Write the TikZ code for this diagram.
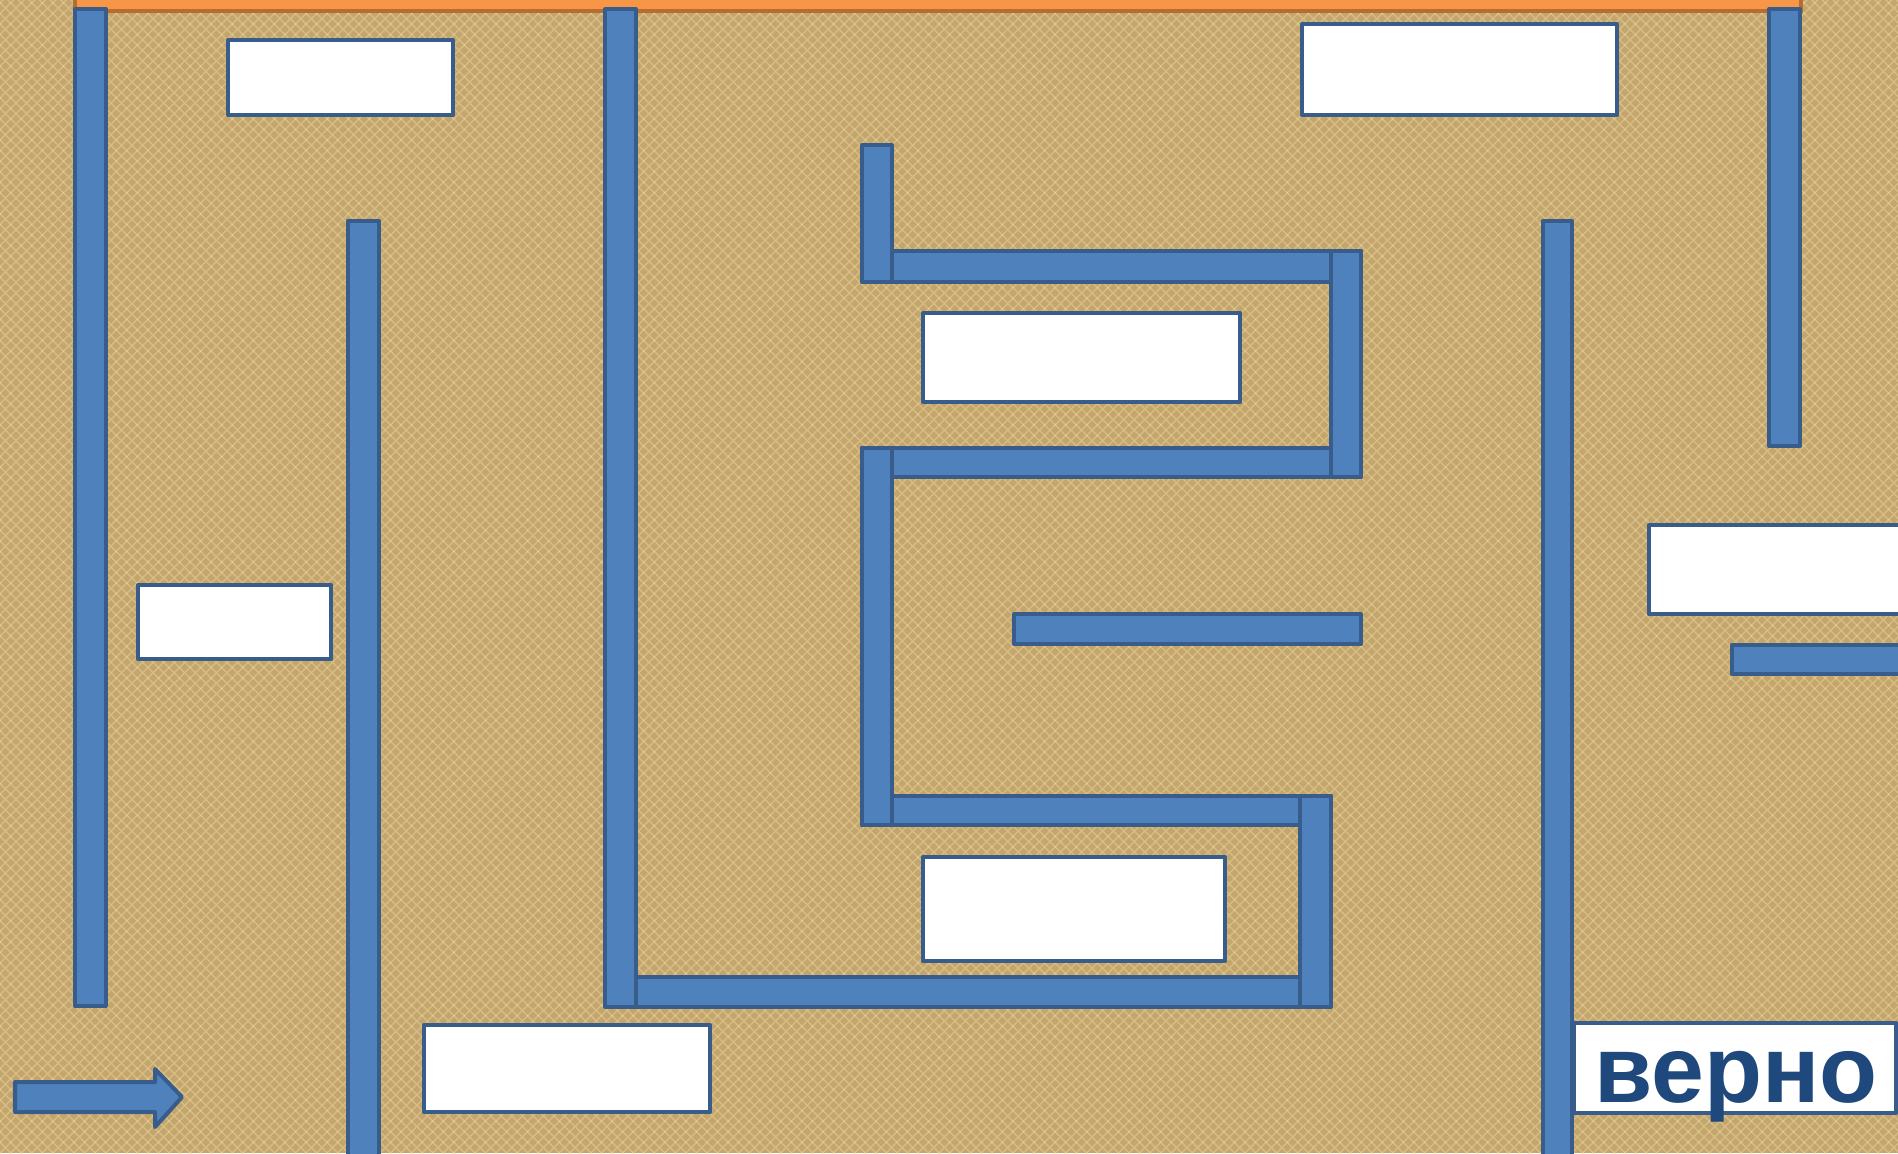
\documentclass[tikz,border=0pt]{standalone}
\usepackage{fontspec}
\setmainfont{Liberation Sans}
\usetikzlibrary{patterns}
\definecolor{burlap}{HTML}{C4A66C}
\definecolor{burlaplight}{HTML}{EAD7A4}
\definecolor{barfill}{HTML}{4F81BD}
\definecolor{barline}{HTML}{385D8A}
\definecolor{orfill}{HTML}{F79646}
\definecolor{orline}{HTML}{B66D31}
\definecolor{txtblue}{HTML}{1F497D}
\tikzset{
  bar/.style={fill=barfill, draw=barline, line width=0.04cm, line join=round},
  orbar/.style={fill=orfill, draw=orline, line width=0.04cm},
  wbox/.style={draw=barline, fill=white, line width=0.04cm, rectangle, inner sep=0pt, outer sep=0pt, anchor=north west, line join=round},
}
\begin{document}
\begin{tikzpicture}[x=0.01cm, y=-0.01cm]
\useasboundingbox (0,0) rectangle (1898,1153);
\begin{scope}
\clip (0,0) rectangle (1898,1153);
% background
\fill[burlap] (0,0) rectangle (1898,1153);
\fill[pattern=crosshatch, pattern color=burlaplight, opacity=0.45] (0,0) rectangle (1898,1153);
% orange top bar
\draw[orbar] (75,-10) rectangle (1801,11);
% horizontal bars
\draw[bar] (862,251) rectangle (1361,282);
\draw[bar] (862,448) rectangle (1361,477);
\draw[bar] (862,796) rectangle (1331,825);
\draw[bar] (606,977) rectangle (1331,1007);
\draw[bar] (1014,614) rectangle (1361,644);
\draw[bar] (1732,645) rectangle (1910,674);
% vertical bars
\draw[bar] (75,9) rectangle (106,1006);
\draw[bar] (348,221) rectangle (379,1165);
\draw[bar] (605,9) rectangle (636,1007);
\draw[bar] (862,145) rectangle (892,282);
\draw[bar] (1331,251) rectangle (1361,477);
\draw[bar] (862,448) rectangle (892,825);
\draw[bar] (1300,796) rectangle (1331,1007);
\draw[bar] (1543,221) rectangle (1572,1165);
\draw[bar] (1769,9) rectangle (1800,446);
% white boxes
\node[wbox, minimum width=2.25cm, minimum height=0.75cm] (boxA) at (228,40) {};
\node[wbox, minimum width=3.15cm, minimum height=0.91cm] (boxB) at (1302,24) {};
\node[wbox, minimum width=3.17cm, minimum height=0.89cm] (boxC) at (923,313) {};
\node[wbox, minimum width=2.60cm, minimum height=0.89cm] (boxD) at (1649,525) {};
\node[wbox, minimum width=1.93cm, minimum height=0.74cm] (boxE) at (138,585) {};
\node[wbox, minimum width=3.02cm, minimum height=1.04cm] (boxF) at (923,857) {};
\node[wbox, minimum width=2.86cm, minimum height=0.87cm] (boxG) at (424,1025) {};
\node[wbox, minimum width=3.22cm, minimum height=0.90cm] (boxH) at (1574,1023) {};
\node[anchor=base, inner sep=0pt, text=txtblue, font=\fontsize{27pt}{27pt}\selectfont\bfseries] (verno) at (1736,1102) {верно};
% start arrow
\draw[bar] (15,1082) -- (155,1082) -- (155,1069) -- (182,1097) -- (155,1127) -- (155,1112) -- (15,1112) -- cycle;
\end{scope}
\end{tikzpicture}
\end{document}
